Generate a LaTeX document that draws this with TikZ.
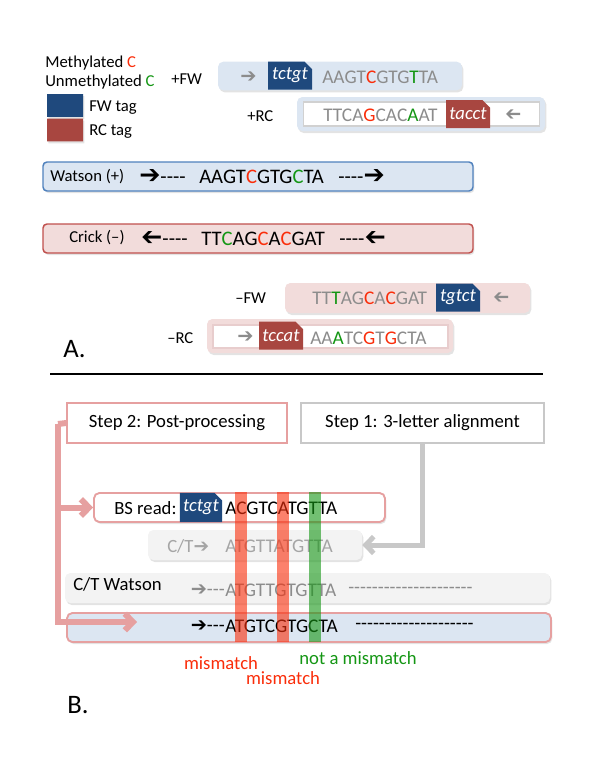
\documentclass[tikz,border=0pt]{standalone}
\usepackage{fontspec}
\usepackage{graphicx}
\setmainfont{Carlito}
\newfontfamily\dejavu{DejaVu Sans}
\usetikzlibrary{shapes.misc,shadows,arrows.meta}

\definecolor{tagblue}{RGB}{31,73,125}
\definecolor{tagred}{RGB}{168,70,64}
\definecolor{wfill}{RGB}{220,230,242}
\definecolor{wline}{RGB}{79,129,189}
\definecolor{cfill}{RGB}{242,220,219}
\definecolor{cline}{RGB}{192,80,77}
\definecolor{methred}{RGB}{250,45,10}
\definecolor{unmgreen}{RGB}{20,150,20}
\definecolor{seqgray}{RGB}{140,140,140}
\definecolor{ctgray}{RGB}{165,165,165}
\definecolor{stepred}{RGB}{230,160,160}
\definecolor{stepgray}{RGB}{200,200,200}
\definecolor{ctfill}{RGB}{243,243,243}
\definecolor{inpink}{RGB}{232,205,205}

\newcommand{\mC}[1]{\textcolor{methred}{#1}}
\newcommand{\uC}[1]{\textcolor{unmgreen}{#1}}
\newcommand{\rarr}{{\dejavu\bfseries ➔}}
\newcommand{\larr}{\reflectbox{\dejavu\bfseries ➔}}
\newcommand{\bigrarr}{{\fontsize{19}{19}\selectfont\rarr}}
\newcommand{\biglarr}{{\fontsize{19}{19}\selectfont\larr}}
\newcommand{\dsh}{-{}}

\tikzset{
  lbl/.style={inner sep=0pt, font=\fontsize{12.5}{14}\selectfont},
  lblb/.style={inner sep=0pt, font=\fontsize{14}{16}\selectfont},
  seq/.style={inner sep=0pt, font=\fontsize{14.5}{16}\selectfont},
  bigseq/.style={inner sep=0pt, font=\fontsize{15.5}{17}\selectfont},
  shadowed/.style={drop shadow={shadow xshift=1pt, shadow yshift=-1.5pt, opacity=0.22}},
  strand/.style={draw, rounded corners=3pt, line width=1.1pt, shadowed,
    minimum width=322.5pt, minimum height=21.75pt},
  readbox/.style={rounded corners=4pt, shadowed, minimum width=183pt, minimum height=21.5pt},
  inbox/.style={line width=1.4pt, fill=white, minimum width=177pt, minimum height=17.5pt},
  tagbox/.style={chamfered rectangle, chamfered rectangle corners=north east,
    chamfered rectangle xsep=2.5pt, inner sep=0pt, minimum width=33pt, minimum height=21pt,
    text=white, font=\fontsize{14}{16}\selectfont\itshape},
  keybox/.style={chamfered rectangle, chamfered rectangle corners={north west,north east},
    chamfered rectangle xsep=2pt, inner sep=0pt, minimum width=27pt, minimum height=17pt, shadowed},
  stepbox/.style={draw, line width=1.1pt, fill=white, minimum height=30pt, lblb},
  bar/.style={opacity=0.6, inner sep=0pt, minimum width=9pt, minimum height=112.5pt},
  flow/.style={line width=4.5pt, -{Straight Barb[length=6pt,width=12.5pt]}},
}

\begin{document}
\begin{tikzpicture}[x=0.75pt,y=0.75pt,yscale=-1,xscale=1]
\useasboundingbox (0,0) rectangle (600,776);

% Legend
\node[lbl, anchor=west] (meth) at (45,63) {Methylated \mC{C}};
\node[lbl, anchor=west] (unmeth) at (45,82) {Unmethylated \uC{C}};
\node[keybox, fill=tagblue] (fwkey) at (65,105.5) {};
\node[lbl, anchor=west] (fwkeyl) at (89,108) {FW tag};
\node[keybox, fill=tagred] (rckey) at (65,130) {};
\node[lbl, anchor=west] (rckeyl) at (89,132) {RC tag};

%Shape: +FW read
\node[readbox, fill=wfill] (fwp) at (340,76) {};
\node[tagbox, fill=tagblue] (fwptag) at (290,75.5) {tctgt};
\node[lbl, anchor=west] (fwpl) at (171,79) {+FW};
\node[seq, anchor=west, text=seqgray] (fwpa) at (240,77) {\rarr};
\node[seq, anchor=west, text=seqgray] (fwps) at (322,77) {AAGT\mC{C}GTG\uC{T}TA};

%Shape: +RC read
\node[readbox, fill=wfill, minimum width=186pt, minimum height=25.5pt] (rcp) at (421,114) {};
\node[inbox, draw=black!18] (rcpin) at (421.5,114) {};
\node[tagbox, fill=tagred] (rcptag) at (468,114) {tacct};
\node[lbl, anchor=west] (rcpl) at (247,116) {+RC};
\node[seq, anchor=west, text=seqgray] (rcps) at (323,115) {TTCA\mC{G}CAC\uC{A}AT};
\node[seq, anchor=west, text=seqgray] (rcpa) at (505,115) {\larr};

%Shape: Watson strand
\node[strand, fill=wfill, draw=wline] (watson) at (258,176.5) {};
\node[lbl, anchor=west] (watsonl) at (50,177) {Watson (+)};
\node[bigseq, anchor=west] (watsona) at (139,177) {\bigrarr\dsh\dsh\dsh\dsh};
\node[bigseq, anchor=west] (watsons) at (199,177) {AAGT\mC{C}GTG\uC{C}TA};
\node[bigseq, anchor=west] (watsonz) at (338,177) {\dsh\dsh\dsh\dsh\bigrarr};

%Shape: Crick strand
\node[strand, fill=cfill, draw=cline] (crick) at (258,238.5) {};
\node[lbl, anchor=west] (crickl) at (69,238) {Crick (\textendash)};
\node[bigseq, anchor=west] (cricka) at (141,239) {\biglarr\dsh\dsh\dsh\dsh};
\node[bigseq, anchor=west] (cricks) at (201,239) {TT\uC{C}AG\mC{C}A\mC{C}GAT};
\node[bigseq, anchor=west] (crickz) at (339,239) {\dsh\dsh\dsh\dsh\biglarr};

%Shape: -FW read
\node[readbox, fill=cfill, minimum width=183.75pt, minimum height=22.5pt] (fwm) at (407.5,298) {};
\node[tagbox, fill=tagblue] (fwmtag) at (458,297.5) {tgtct};
\node[lbl, anchor=west] (fwml) at (235,298) {\textendash FW};
\node[seq, anchor=west, text=seqgray] (fwms) at (312,298) {TT\uC{T}AG\mC{C}A\mC{C}GAT};
\node[seq, anchor=west, text=seqgray] (fwma) at (493,298) {\larr};

%Shape: -RC read
\node[readbox, fill=cfill, minimum width=184.5pt, minimum height=25.5pt] (rcm) at (330,336) {};
\node[inbox, draw=inpink, minimum width=176.25pt] (rcmin) at (330.5,336.5) {};
\node[tagbox, fill=tagred] (rcmtag) at (281,335.5) {tccat};
\node[lbl, anchor=west] (rcml) at (167,338) {\textendash RC};
\node[seq, anchor=west, text=seqgray] (rcma) at (237,337) {\rarr};
\node[seq, anchor=west, text=seqgray] (rcms) at (310,338) {AA\uC{A}TC\mC{G}T\mC{G}CTA};

% Text Node
\node[anchor=west, inner sep=0pt, font=\fontsize{20}{22}\selectfont] (parta) at (63,349) {A.};

%Straight Lines
\coordinate (ruleL) at (50,374);
\coordinate (ruleR) at (543,374);
\draw[line width=1.6pt] (ruleL) -- (ruleR);

% Steps
\node[stepbox, draw=stepred, minimum width=165pt] (step2) at (177,423) {Step 2: Post-processing};
\node[stepbox, draw=stepgray, minimum width=182.25pt] (step1) at (422.5,423) {Step 1: 3-letter alignment};

%Shape: reads and references
\node[draw=stepred, line width=1.4pt, fill=white, rounded corners=4pt, shadowed,
  minimum width=218.25pt, minimum height=21.75pt] (bsread) at (239.5,507.5) {};
\node[tagbox, fill=tagblue, minimum width=31.5pt, minimum height=22pt] (bstag) at (201,507.5) {tctgt};
\node[lblb, anchor=west] (bsreadl) at (114,508) {BS read:};
\node[seq, anchor=west] (bsreads) at (225,508) {ACGTCATGTTA};

\node[fill=ctfill, rounded corners=4pt, shadowed, minimum width=160.5pt, minimum height=22.5pt] (ctread) at (255,545) {};
\node[lblb, anchor=west, text=ctgray] (ctreadl) at (167,546) {C/T\rarr};
\node[seq, anchor=west, text=ctgray] (ctreads) at (225,546) {ATGTTATGTTA};

\node[fill=ctfill, rounded corners=4pt, shadowed, minimum width=363.75pt, minimum height=22.5pt] (ctwatson) at (307.5,588) {};
\node[lblb, anchor=west] (ctwatsonl) at (73,584) {C/T Watson};
\node[seq, anchor=east, text=seqgray] (ctwatsona) at (225,590) {\rarr\dsh\dsh\dsh};
\node[seq, anchor=west, text=seqgray] (ctwatsons) at (225,590) {ATGTTGTGTTA};
\node[seq, anchor=west, text=seqgray] (ctwatsonz) at (348,590)
  {\dsh\dsh\dsh\dsh\dsh\dsh\dsh\dsh\dsh\dsh\dsh\dsh\dsh\dsh\dsh\dsh\dsh\dsh\dsh\dsh\dsh};

\node[draw=stepred, line width=1.4pt, fill=wfill, rounded corners=4pt, shadowed,
  minimum width=363pt, minimum height=21.75pt] (watsonb) at (309,627.5) {};
\node[seq, anchor=east] (watsonba) at (225,626) {\rarr\dsh\dsh\dsh};
\node[seq, anchor=west] (watsonbs) at (225,626) {ATGTCGTGCTA};
\node[seq, anchor=west] (watsonbz) at (355,626)
  {\dsh\dsh\dsh\dsh\dsh\dsh\dsh\dsh\dsh\dsh\dsh\dsh\dsh\dsh\dsh\dsh\dsh\dsh\dsh\dsh};

% Connectors
\coordinate (bend) at (58,424);
\coordinate (tipb) at (137,622);
\draw[line width=4.5pt, draw=stepred] (step2.west) -- (bend);
\draw[flow, draw=stepred] (bend) |- (tipb);
\draw[flow, draw=stepred] (bend) |- (bsread.west);
\draw[flow, draw=stepgray, line width=3.75pt] (step1.south) |- (ctread.east);

% Mismatch bars
\node[bar, fill=methred] (mm1) at (241,567) {};
\node[bar, fill=methred] (mm2) at (283,567) {};
\node[bar, fill=unmgreen] (ok1) at (315,567) {};

% Text Node
\node[lblb, text=methred] (mm1l) at (221,663) {mismatch};
\node[lblb, text=methred] (mm2l) at (283,678) {mismatch};
\node[lblb, text=unmgreen] (ok1l) at (358,658) {not a mismatch};

% Text Node
\node[anchor=west, inner sep=0pt, font=\fontsize{20}{22}\selectfont] (partb) at (67,705) {B.};

\end{tikzpicture}
\end{document}
